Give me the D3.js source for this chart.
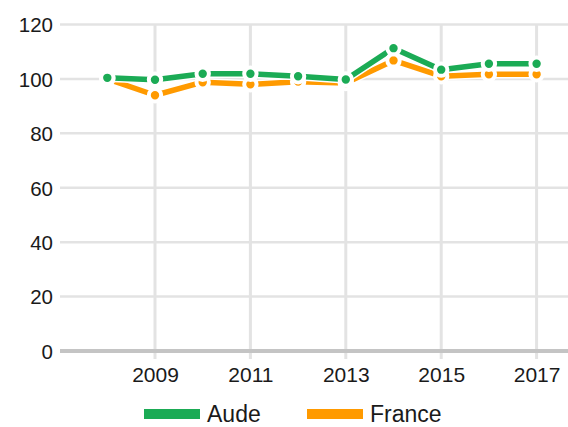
<!DOCTYPE html>
<html>
<head>
<meta charset="utf-8">
<script src="https://cdn.jsdelivr.net/npm/d3@7"></script>
<style>
  body { margin: 0; background: #fff; }
  svg text { font-family: "Liberation Sans", Arial, sans-serif; fill: #1a1a1a; }
</style>
</head>
<body>
<svg id="chart" width="568" height="427"></svg>
<script>
// data
var years = [2008, 2009, 2010, 2011, 2012, 2013, 2014, 2015, 2016, 2017];
var aude = [100.4, 99.7, 101.9, 101.9, 101, 99.8, 111.3, 103.4, 105.6, 105.6];
var france = [100, 94, 98.8, 98, 99, 98.5, 106.8, 101, 101.7, 101.7];
var yTicks = [0, 20, 40, 60, 80, 100, 120];
var xTicks = [2009, 2011, 2013, 2015, 2017];
var seriesNames = ["Aude", "France"];
var colors = ["#1bab55", "#ff9a00"];

var svg = d3.select("#chart");
var W = 568;

var x = d3.scaleLinear().domain([2007, 2018]).range([59.6, 584.3]);
var y = d3.scaleLinear().domain([0, 120]).range([351, 24.5]);

// horizontal grid
svg.append("g").selectAll("line")
  .data(yTicks.filter(function(d) { return d > 0; }))
  .enter().append("line")
  .attr("x1", 60).attr("x2", W)
  .attr("y1", function(d) { return y(d); })
  .attr("y2", function(d) { return y(d); })
  .attr("stroke", "#e3e3e3").attr("stroke-width", 2.5);

// vertical grid
svg.append("g").selectAll("line")
  .data(xTicks)
  .enter().append("line")
  .attr("x1", function(d) { return x(d); })
  .attr("x2", function(d) { return x(d); })
  .attr("y1", y(120)).attr("y2", 359)
  .attr("stroke", "#e3e3e3").attr("stroke-width", 3);

// baseline
svg.append("line")
  .attr("x1", 60).attr("x2", W)
  .attr("y1", y(0)).attr("y2", y(0))
  .attr("stroke", "#c4c4c4").attr("stroke-width", 4);

// y axis labels
var yAxis = svg.append("g")
  .attr("transform", "translate(53,0)")
  .call(d3.axisLeft(y).tickValues(yTicks).tickSize(0).tickPadding(0));
yAxis.select(".domain").remove();
yAxis.selectAll("text")
  .attr("font-size", 20.5).attr("dy", "0.36em")
  .style("font-family", "Liberation Sans, Arial, sans-serif").attr("fill", "#1a1a1a");

// x axis labels
var xAxis = svg.append("g")
  .attr("transform", "translate(0,382)")
  .call(d3.axisBottom(x).tickValues(xTicks).tickFormat(d3.format("d")).tickSize(0).tickPadding(0));
xAxis.select(".domain").remove();
xAxis.selectAll("text")
  .attr("font-size", 21).attr("dy", 0).attr("y", 0)
  .style("font-family", "Liberation Sans, Arial, sans-serif").attr("fill", "#1a1a1a");

var line = d3.line()
  .x(function(d, i) { return x(years[i]); })
  .y(function(d) { return y(d); });

var series = [aude, france];

// draw France first, Aude on top
[1, 0].forEach(function(k) {
  var g = svg.append("g");
  g.append("path").datum(series[k])
    .attr("d", line).attr("fill", "none")
    .attr("stroke", "#fff").attr("stroke-width", 8.5).attr("stroke-linejoin", "round");
  g.append("path").datum(series[k])
    .attr("d", line).attr("fill", "none")
    .attr("stroke", colors[k]).attr("stroke-width", 5.5).attr("stroke-linejoin", "round");
});

[1, 0].forEach(function(k) {
  svg.append("g").selectAll("circle")
    .data(series[k])
    .enter().append("circle")
    .attr("cx", function(d, i) { return x(years[i]); })
    .attr("cy", function(d) { return y(d); })
    .attr("r", 6.2)
    .attr("fill", colors[k])
    .attr("stroke", "#fff").attr("stroke-width", 4);
});

// legend
var legendX = [144, 307];
var legend = svg.append("g").selectAll("g")
  .data(seriesNames)
  .enter().append("g")
  .attr("transform", function(d, i) { return "translate(" + legendX[i] + ",414)"; });
legend.append("rect")
  .attr("x", 0).attr("y", -5).attr("width", 56).attr("height", 10)
  .attr("fill", function(d, i) { return colors[i]; });
legend.append("text")
  .attr("x", 63).attr("y", 8)
  .attr("font-size", 23)
  .text(function(d) { return d; });
</script>
</body>
</html>
